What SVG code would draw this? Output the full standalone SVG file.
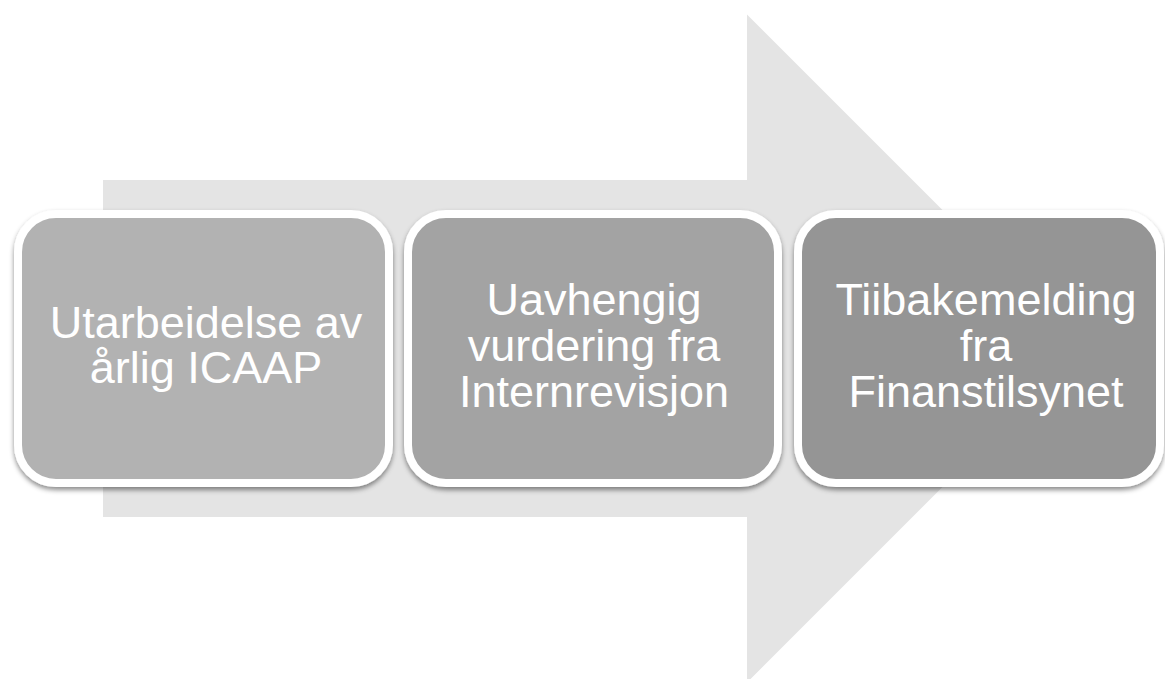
<svg xmlns="http://www.w3.org/2000/svg" width="1165" height="679" viewBox="0 0 1165 679">
<defs>
<filter id="sh" x="-10%" y="-10%" width="120%" height="125%">
<feDropShadow dx="0" dy="3" stdDeviation="2.5" flood-color="#000" flood-opacity="0.45"/>
</filter>
<style>
.box{stroke:#ffffff;stroke-width:8;filter:url(#sh);}
.t{font-family:"Liberation Sans",Arial,sans-serif;font-size:45px;fill:#ffffff;text-anchor:middle;}
</style>
</defs>
<rect width="1165" height="679" fill="#ffffff"/>
<g id="connectors">
<polygon id="arrow" points="103,180 747,180 747,14.5 1081,348.5 747,682.5 747,517 103,517" fill="#e4e4e4"/>
</g>
<g id="node1">
<rect class="box" x="18" y="214" width="371" height="269" rx="38" fill="#b2b2b2"/>
<text class="t" x="206" y="338">Utarbeidelse av</text>
<text class="t" x="206" y="383">årlig ICAAP</text>
</g>
<g id="node2">
<rect class="box" x="408" y="214" width="370" height="269" rx="38" fill="#a3a3a3"/>
<text class="t" x="594" y="315">Uavhengig</text>
<text class="t" x="594" y="361">vurdering fra</text>
<text class="t" x="594" y="407">Internrevisjon</text>
</g>
<g id="node3">
<rect class="box" x="798" y="214" width="362" height="269" rx="38" fill="#959595"/>
<text class="t" x="986" y="315">Tiibakemelding</text>
<text class="t" x="986" y="361">fra</text>
<text class="t" x="986" y="407">Finanstilsynet</text>
</g>
</svg>
